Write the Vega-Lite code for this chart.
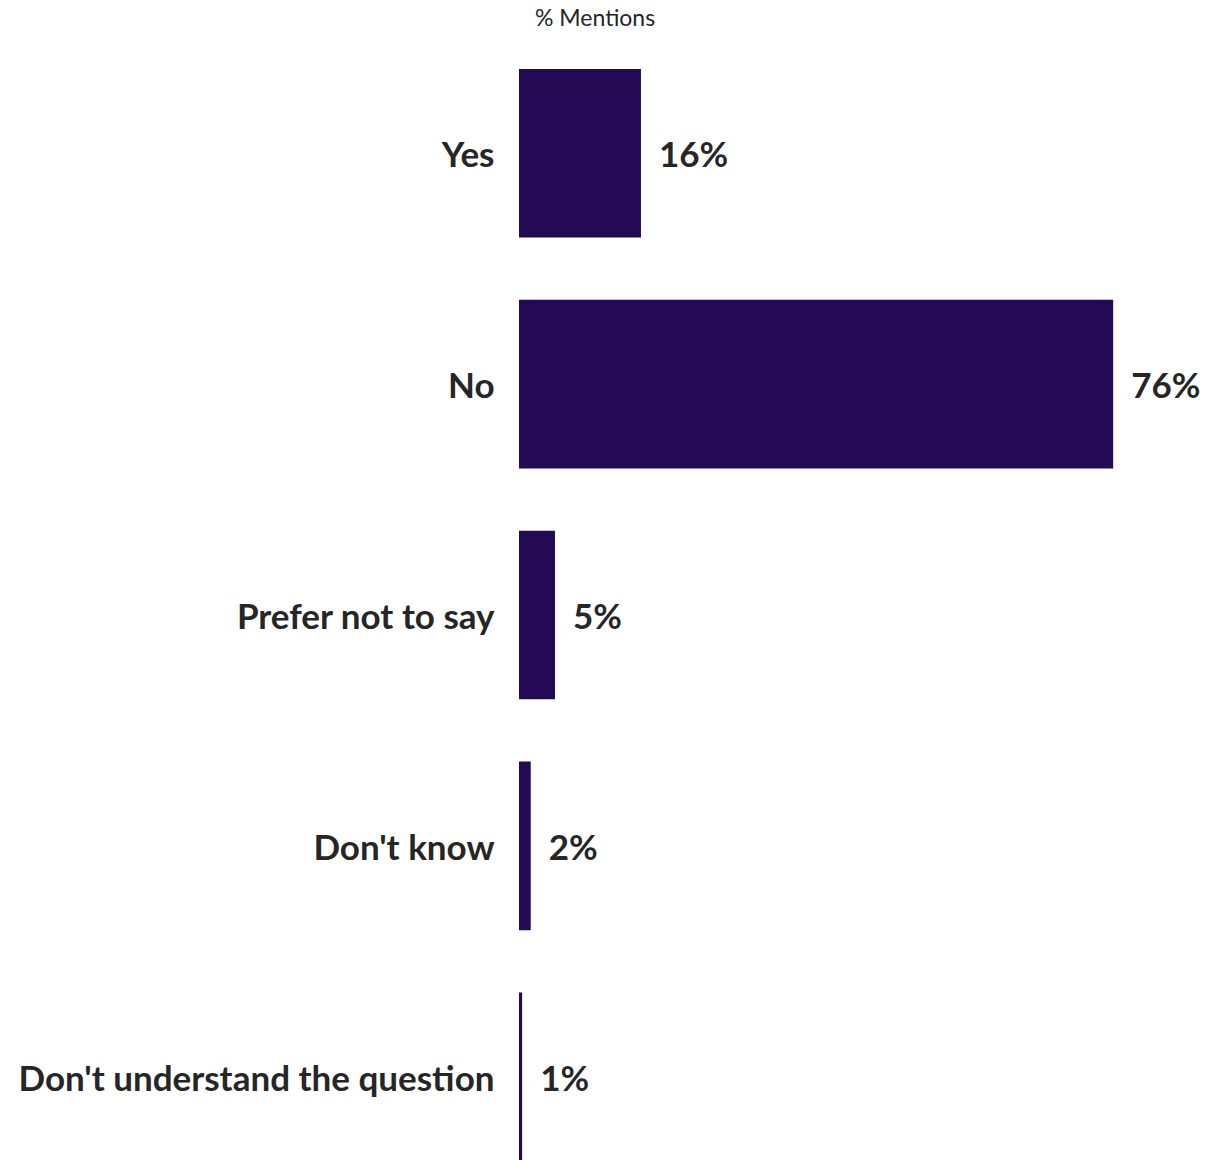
{
  "$schema": "https://vega.github.io/schema/vega-lite/v6.json",
  "autosize": "none",
  "width": 688,
  "height": 1092,
  "padding": {"top": 69, "left": 519, "right": 9, "bottom": 0},
  "background": "white",
  "title": {
    "text": "% Mentions",
    "anchor": "start",
    "frame": "group",
    "dx": 16,
    "offset": 38,
    "font": "Lato",
    "fontSize": 23,
    "fontWeight": "normal",
    "color": "#262626"
  },
  "data": {
    "values": [
      {"answer": "Yes", "pct": 15.6, "label": "16%"},
      {"answer": "No", "pct": 76.0, "label": "76%"},
      {"answer": "Prefer not to say", "pct": 4.6, "label": "5%"},
      {"answer": "Don't know", "pct": 1.5, "label": "2%"},
      {"answer": "Don't understand the question", "pct": 0.4, "label": "1%"}
    ]
  },
  "encoding": {
    "y": {
      "field": "answer",
      "type": "nominal",
      "sort": null,
      "scale": {"paddingInner": 0.27, "paddingOuter": 0},
      "axis": {
        "title": null,
        "domain": false,
        "ticks": false,
        "labelPadding": 25,
        "labelOffset": 3,
        "labelFont": "Lato",
        "labelFontSize": 35,
        "labelFontWeight": "bold",
        "labelColor": "#262626",
        "labelLimit": 600
      }
    },
    "x": {
      "field": "pct",
      "type": "quantitative",
      "scale": {"domain": [0, 88]},
      "axis": null
    }
  },
  "layer": [
    {"mark": {"type": "bar", "color": "#240955"}},
    {
      "mark": {
        "type": "text",
        "align": "left",
        "baseline": "middle",
        "dx": 18,
        "dy": 3,
        "font": "Lato",
        "fontSize": 35,
        "fontWeight": "bold",
        "color": "#262626"
      },
      "encoding": {"text": {"field": "label"}}
    }
  ],
  "config": {"view": {"stroke": null}}
}
